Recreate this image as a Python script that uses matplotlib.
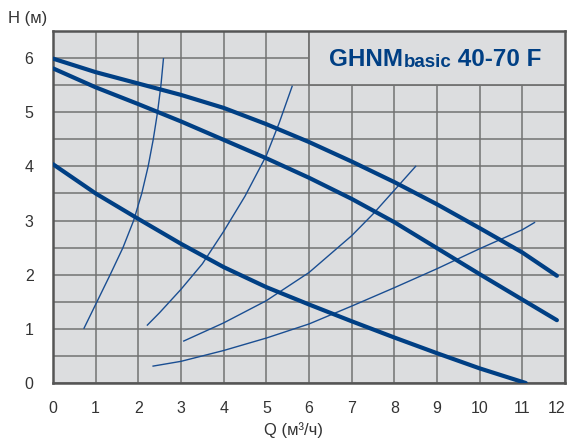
#!/usr/bin/env python3
"""Pump curve chart GHNMbasic 40-70 F."""
import matplotlib

matplotlib.use("Agg")
import matplotlib.pyplot as plt
from matplotlib.patches import Rectangle

# pump curves (thick), Q in m3/h, H in m
q_max = [0.0, 1.0, 2.0, 3.0, 4.0, 5.0, 6.0, 7.0, 8.0, 9.0, 10.0, 11.0, 11.81]
h_max = [5.99, 5.74, 5.53, 5.32, 5.08, 4.78, 4.45, 4.09, 3.71, 3.30, 2.86, 2.41, 1.98]

q_mid = [0.0, 1.0, 2.0, 3.0, 4.0, 5.0, 6.0, 7.0, 8.0, 9.0, 10.0, 11.0, 11.81]
h_mid = [5.81, 5.46, 5.15, 4.83, 4.49, 4.15, 3.79, 3.40, 2.97, 2.49, 2.01, 1.54, 1.16]

q_min = [0.0, 1.0, 2.0, 3.0, 4.0, 5.0, 6.0, 7.0, 8.0, 9.0, 10.0, 11.08]
h_min = [4.04, 3.50, 3.03, 2.57, 2.14, 1.77, 1.45, 1.14, 0.84, 0.55, 0.27, 0.0]

# system curves (thin)
q_s1 = [0.72, 1.03, 1.34, 1.64, 1.89, 2.08, 2.23, 2.35, 2.45, 2.53, 2.59]
h_s1 = [1.0, 1.5, 2.0, 2.5, 3.0, 3.5, 4.0, 4.5, 5.0, 5.5, 6.0]

q_s2 = [2.20, 2.5, 3.0, 3.5, 4.0, 4.5, 5.0, 5.3, 5.61]
h_s2 = [1.06, 1.30, 1.73, 2.20, 2.80, 3.45, 4.20, 4.80, 5.49]

q_s3 = [3.05, 4.0, 5.0, 6.0, 7.0, 7.5, 8.0, 8.51]
h_s3 = [0.77, 1.11, 1.52, 2.04, 2.72, 3.12, 3.56, 4.01]

q_s4 = [2.33, 3.0, 4.0, 5.0, 6.0, 7.0, 8.0, 9.0, 10.0, 11.0, 11.30]
h_s4 = [0.31, 0.40, 0.60, 0.83, 1.09, 1.42, 1.76, 2.11, 2.48, 2.83, 2.97]

x_ticks = list(range(0, 13))
y_ticks = [0, 1, 2, 3, 4, 5, 6]

BG = "#dcdddf"
GRID = "#727272"
THICK = "#003f84"
THIN = "#1a4e92"
TEXT = "#333333"
FONT = "Liberation Sans"


def main():
    fig = plt.figure(figsize=(5.67, 4.41), dpi=100)
    ax = fig.add_axes([53 / 567, 58 / 441, 512 / 567, 352 / 441])
    ax.set_facecolor(BG)

    ax.set_xlim(0, 12)
    ax.set_ylim(0, 6.5)
    ax.set_xticks(x_ticks)
    ax.set_yticks(y_ticks)
    ax.set_yticks([i + 0.5 for i in range(7)], minor=True)
    ax.set_axisbelow(True)
    ax.grid(True, which="both", color=GRID, linewidth=1.1)
    ax.tick_params(which="both", length=0)
    ax.tick_params(axis="x", pad=13, labelsize=11.5, labelcolor=TEXT)
    ax.tick_params(axis="y", pad=14, labelsize=11.5, labelcolor=TEXT)
    for lab in ax.get_xticklabels() + ax.get_yticklabels():
        lab.set_family(FONT)
    ax.get_xticklabels()[-1].set_horizontalalignment("right")
    for sp in ax.spines.values():
        sp.set_color("#555555")
        sp.set_linewidth(1.8)

    # title box covers the grid
    ax.add_patch(Rectangle((6, 5.5), 6.5, 1.2, facecolor=BG, edgecolor=GRID,
                           linewidth=1.3, zorder=1))
    t1 = ax.text(6.48, 5.98, "GHNM", fontsize=17.5, fontweight="bold", family=FONT,
                 color=THICK, va="center", ha="left", zorder=3)
    t2 = ax.annotate("basic", xy=(1, 0), xycoords=t1, fontsize=13.5, family=FONT,
                     fontweight="bold", color=THICK, va="bottom", ha="left", zorder=3)
    ax.annotate(" 40-70 F", xy=(1, 0), xycoords=t2, fontsize=17.5, family=FONT,
                fontweight="bold", color=THICK, va="bottom", ha="left", zorder=3)

    for q, h in [(q_s1, h_s1), (q_s2, h_s2), (q_s3, h_s3), (q_s4, h_s4)]:
        ax.plot(q, h, color=THIN, linewidth=1.0, zorder=4, solid_capstyle="butt")
    for q, h in [(q_max, h_max), (q_mid, h_mid), (q_min, h_min)]:
        ax.plot(q, h, color=THICK, linewidth=3.0, zorder=5, solid_capstyle="round")

    fig.text(8 / 567, 1 - 18 / 441, "H (м)", fontsize=12, color=TEXT, family=FONT,
             ha="left", va="center")
    fig.text(294 / 567, 1 - 430 / 441, "Q (м³/ч)", fontsize=12, color=TEXT,
             family=FONT, ha="center", va="center")

    fig.savefig("out.png", dpi=100)
    plt.close(fig)


if __name__ == "__main__":
    main()
